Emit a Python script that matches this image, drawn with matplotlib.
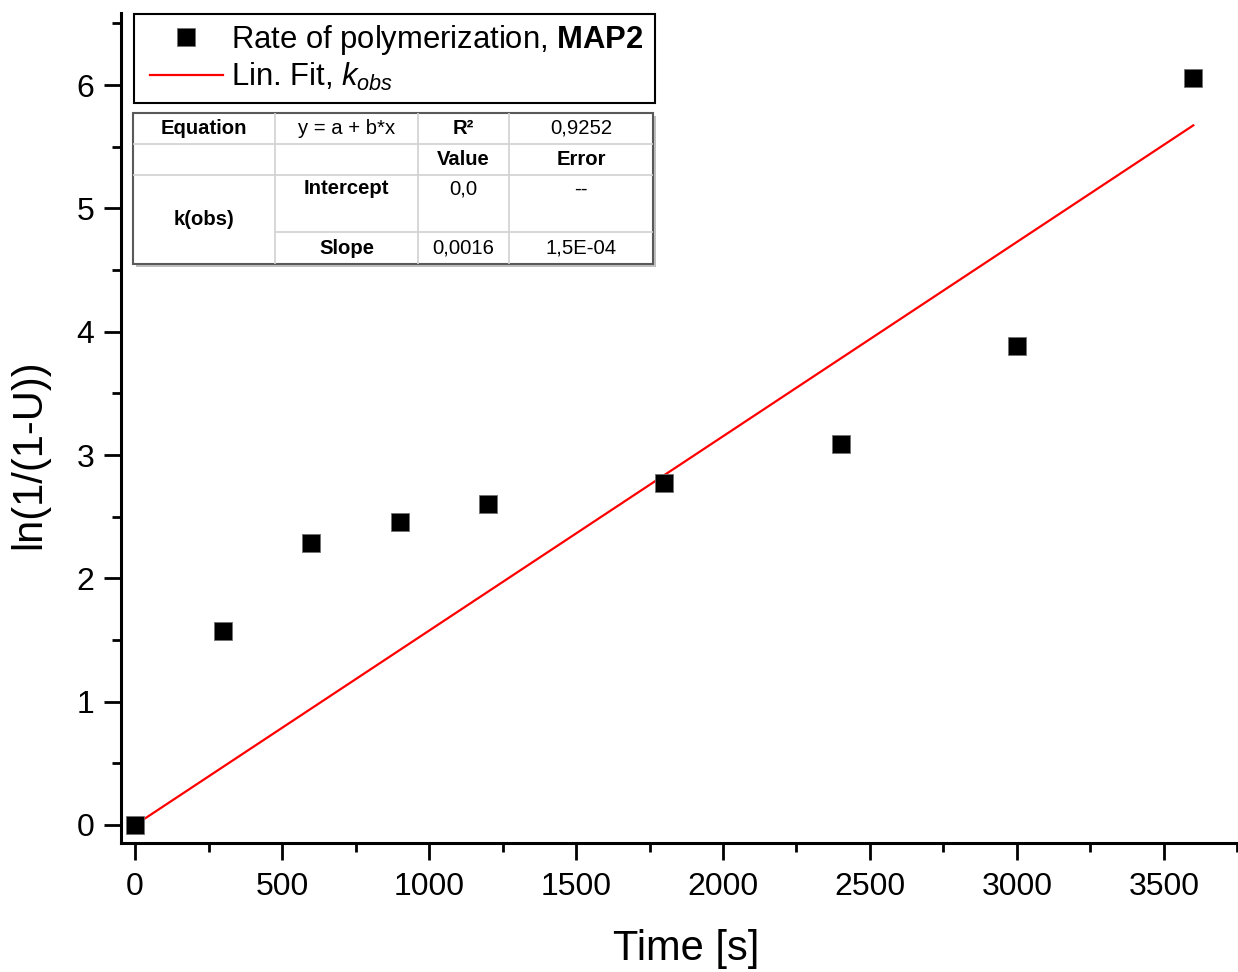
import numpy as np
import matplotlib
matplotlib.use("Agg")
import matplotlib.pyplot as plt
from matplotlib.patches import Rectangle
from matplotlib.ticker import MultipleLocator

plt.rcParams.update({
    "font.family": ["Liberation Sans", "DejaVu Sans"],
    "mathtext.fontset": "custom",
    "mathtext.rm": "Liberation Sans",
    "mathtext.it": "Liberation Sans:italic",
    "mathtext.bf": "Liberation Sans:bold",
})

# data
time_s = [0, 300, 600, 900, 1200, 1800, 2400, 3000, 3600]
ln_u = [0.0, 1.573, 2.287, 2.457, 2.603, 2.774, 3.09, 3.885, 6.058]

# fit table text
table_rows = [
    ["Equation", "y = a + b*x", "R\u00b2", "0,9252"],
    ["", "", "Value", "Error"],
    ["k(obs)", "Intercept", "0,0", "--"],
    ["", "Slope", "0,0016", "1,5E-04"],
]

x = np.array(time_s, float)
y = np.array(ln_u, float)
# linear fit with intercept fixed at 0
slope = np.sum(x * y) / np.sum(x * x)
xfit = np.array([x.min(), x.max()])
yfit = slope * xfit

W, H = 1238, 972
fig = plt.figure(figsize=(W / 100, H / 100), dpi=100)
ax = fig.add_axes([121 / W, 1 - 843 / H, 1 - 121 / W, (843 - 13) / H])

ax.plot(xfit, yfit, color="red", lw=1.6, label=r"Lin. Fit, $k_{obs}$", zorder=2)
ax.plot(x, y, ls="none", marker="s", ms=13, color="black", mec="0.45", mew=0.6,
        label=r"Rate of polymerization, $\mathbf{MAP2}$", zorder=3)

ax.set_xlim(-48, 3752)
ax.set_ylim(-0.146, 6.585)
ax.xaxis.set_major_locator(MultipleLocator(500))
ax.xaxis.set_minor_locator(MultipleLocator(250))
ax.yaxis.set_major_locator(MultipleLocator(1))
ax.yaxis.set_minor_locator(MultipleLocator(0.5))

for s in ["top", "right"]:
    ax.spines[s].set_visible(False)
for s in ["left", "bottom"]:
    ax.spines[s].set_linewidth(2.2)

ax.tick_params(which="major", direction="out", length=12, width=2, labelsize=23)
ax.tick_params(axis="x", which="major", pad=9)
ax.tick_params(axis="y", which="major", pad=7)
ax.tick_params(which="minor", direction="out", length=6.5, width=2)

ax.set_xlabel("Time [s]", fontsize=30)
ax.set_ylabel("ln(1/(1-U))", fontsize=30)
ax.xaxis.set_label_coords((686 - 121) / 1117, -(929 - 843) / 830)
ax.yaxis.set_label_coords(-(121 - 49) / 1117, (843 - 454) / 830)

# legend, frame drawn separately to match the box
h, l = ax.get_legend_handles_labels()
leg = ax.legend([h[1], h[0]], [l[1], l[0]], loc="upper left",
                bbox_to_anchor=(150 / W, 1 - 23 / H), bbox_transform=fig.transFigure,
                fontsize=22.3, frameon=False,
                handlelength=2.35, handletextpad=0.27, borderpad=0.0, labelspacing=0.14,
                borderaxespad=0)
fig.add_artist(Rectangle((134 / W, 1 - 103 / H), (655 - 134) / W, (103 - 14) / H,
                         transform=fig.transFigure, facecolor="none", edgecolor="black",
                         lw=1.5, zorder=4))

# fit result table drawn in an inset with pixel units
tx0, tx1, ty0, ty1 = 133, 653, 113, 264
tab = fig.add_axes([tx0 / W, 1 - ty1 / H, (tx1 - tx0) / W, (ty1 - ty0) / H])
tab.set_xlim(0, tx1 - tx0)
tab.set_ylim(ty1 - ty0, 0)
tab.axis("off")
cols = [0, 142, 285, 376, 520]
rows = [0, 31, 62, 119, 151]
fig.add_artist(Rectangle(((tx0 + 3) / W, 1 - (ty1 + 3) / H), (tx1 - tx0) / W, (ty1 - ty0) / H,
                         transform=fig.transFigure, facecolor="0.75", edgecolor="none", zorder=5))
tab.add_patch(Rectangle((0, 0), cols[-1], rows[-1], facecolor="white", edgecolor="0.35",
                        lw=1.5, clip_on=False, zorder=1))
grid_kw = dict(color="0.82", lw=1.2, zorder=2)
for cx in cols[1:-1]:
    tab.plot([cx, cx], [0, rows[-1]], **grid_kw)
tab.plot([0, cols[-1]], [rows[1], rows[1]], **grid_kw)
tab.plot([0, cols[-1]], [rows[2], rows[2]], **grid_kw)
tab.plot([cols[1], cols[-1]], [rows[3], rows[3]], **grid_kw)
tab.set_zorder(6)

bold_cells = {(0, 0), (0, 2), (1, 2), (1, 3), (2, 0), (2, 1), (3, 1)}
for r, row in enumerate(table_rows):
    for c, txt in enumerate(row):
        if not txt:
            continue
        xc = (cols[c] + cols[c + 1]) / 2
        if r == 2 and c == 0:
            yc = (rows[2] + rows[4]) / 2
        elif r == 2:
            yc = rows[2] + 14
        else:
            yc = (rows[r] + rows[r + 1]) / 2
        tab.text(xc, yc, txt, ha="center", va="center", fontsize=14.6,
                 fontweight="bold" if (r, c) in bold_cells else "normal", zorder=3)

fig.savefig("out.png", dpi=100)
